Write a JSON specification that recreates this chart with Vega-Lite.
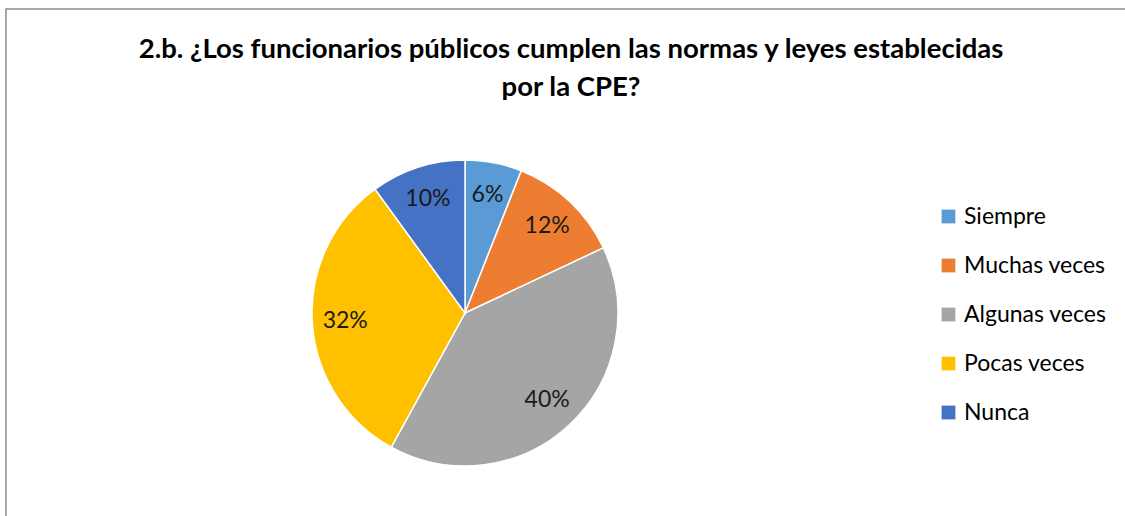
{
  "$schema": "https://vega.github.io/schema/vega-lite/v6.json",
  "autosize": "none",
  "padding": {"left": 6, "top": 9, "right": 0, "bottom": 0},
  "width": 1130,
  "height": 520,
  "background": "white",
  "title": {
    "text": ["2.b. ¿Los funcionarios públicos cumplen las normas y leyes establecidas", "por la CPE?"],
    "anchor": "middle",
    "frame": "group",
    "orient": "top",
    "offset": 0,
    "baseline": "top",
    "dy": 93,
    "font": "Lato",
    "fontSize": 27.5,
    "fontWeight": "bold",
    "color": "#000000",
    "lineHeight": 38
  },
  "layer": [
    {
      "data": {"values": [{}]},
      "mark": {"type": "rect", "fill": null, "fillOpacity": 0, "stroke": "#8c8c8c", "strokeWidth": 1.5},
      "encoding": {}
    },
    {
      "data": {
        "values": [
          {"categoria": "Siempre", "pct": 6, "orden": 1, "etiqueta": "6%"},
          {"categoria": "Muchas veces", "pct": 12, "orden": 2, "etiqueta": "12%"},
          {"categoria": "Algunas veces", "pct": 40, "orden": 3, "etiqueta": "40%"},
          {"categoria": "Pocas veces", "pct": 32, "orden": 4, "etiqueta": "32%"},
          {"categoria": "Nunca", "pct": 10, "orden": 5, "etiqueta": "10%"}
        ]
      },
      "encoding": {
        "theta": {"field": "pct", "type": "quantitative", "stack": true},
        "order": {"field": "orden", "type": "quantitative"}
      },
      "layer": [
        {
          "mark": {"type": "arc", "outerRadius": 153, "stroke": "white", "strokeWidth": 1.5, "xOffset": -106, "yOffset": 44},
          "encoding": {
            "color": {
              "field": "categoria",
              "type": "nominal",
              "scale": {
                "domain": ["Siempre", "Muchas veces", "Algunas veces", "Pocas veces", "Nunca"],
                "range": ["#5B9BD5", "#ED7D31", "#A5A5A5", "#FFC000", "#4472C4"]
              },
              "legend": {
                "title": null,
                "orient": "none",
                "legendX": 931,
                "legendY": 196,
                "symbolType": "square",
                "symbolSize": 190,
                "symbolStrokeWidth": 0,
                "labelFont": "Lato",
                "labelFontSize": 23,
                "labelColor": "#000000",
                "labelOffset": 4,
                "rowPadding": 25,
                "padding": 0
              }
            }
          }
        },
        {
          "mark": {"type": "text", "radius": 120, "font": "Lato", "fontSize": 23, "color": "#1a1a1a", "xOffset": -106, "yOffset": 44},
          "encoding": {
            "text": {"field": "etiqueta", "type": "nominal"}
          }
        }
      ]
    }
  ]
}
